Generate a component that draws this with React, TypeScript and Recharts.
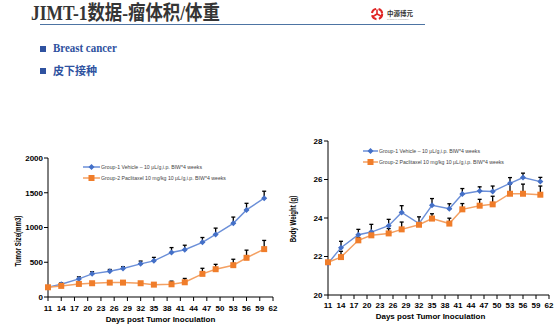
import { LineChart, Line, XAxis, YAxis, ErrorBar, Label } from 'recharts'

const days = [11, 14, 18, 21, 25, 28, 32, 35, 39, 42, 46, 49, 53, 56, 60]
const dayTicks = [11, 14, 17, 20, 23, 26, 29, 32, 35, 38, 41, 44, 47, 50, 53, 56, 59, 62]

const volVehicle = [140, 183, 260, 333, 371, 410, 477, 520, 641, 680, 786, 901, 1060, 1253, 1422]
const volVehicleErr = [10, 20, 30, 30, 25, 25, 40, 50, 70, 65, 70, 90, 90, 95, 100]
const volPaclitaxel = [140, 160, 188, 198, 207, 207, 198, 178, 183, 212, 333, 400, 458, 564, 689]
const volPaclitaxelErr = [10, 10, 12, 12, 12, 12, 12, 12, 45, 55, 80, 70, 85, 110, 125]
const volTicks = [0, 500, 1000, 1500, 2000]

const bwVehicle = [21.64, 22.46, 23.13, 23.27, 23.6, 24.29, 23.71, 24.66, 24.48, 25.25, 25.4, 25.38, 25.8, 26.1, 25.89]
const bwVehicleErr = [0.05, 0.33, 0.28, 0.4, 0.33, 0.35, 0.35, 0.35, 0.26, 0.28, 0.22, 0.28, 0.3, 0.23, 0.22]
const bwPaclitaxel = [21.7, 21.97, 22.84, 23.1, 23.2, 23.41, 23.65, 23.97, 23.71, 24.45, 24.64, 24.71, 25.26, 25.26, 25.21]
const bwPaclitaxelErr = [0.05, 0.3, 0.15, 0.2, 0.25, 0.38, 0.1, 0.25, 0.28, 0.3, 0.33, 0.42, 0.5, 0.5, 0.45]
const bwTicks = [20, 22, 24, 26, 28]

const groupNames = [
  'Group-1 Vehicle – 10 μL/g,i.p. BIW*4 weeks',
  'Group-2 Paclitaxel 10 mg/kg 10 μL/g,i.p. BIW*4 weeks',
]

const BLUE_LINE = '#6b8fd8'
const BLUE_DOT = '#4470c8'
const ORANGE_LINE = '#f4a062'
const ORANGE_DOT = '#f07d2a'
const TEXT_BLUE = '#2f52a0'
const FONT = '"Liberation Sans", Arial, sans-serif'

const volData = days.map((day, i) => ({
  day,
  g1: volVehicle[i],
  g1Err: [0, volVehicleErr[i]],
  g2: volPaclitaxel[i],
  g2Err: [0, volPaclitaxelErr[i]],
}))

const bwData = days.map((day, i) => ({
  day,
  g1: bwVehicle[i],
  g1Err: [0, bwVehicleErr[i]],
  g2: bwPaclitaxel[i],
  g2Err: [0, bwPaclitaxelErr[i]],
}))

function DiamondDot(props: any) {
  const { cx, cy } = props
  if (cx == null || cy == null) return null
  return (
    <path
      d={`M${cx},${cy - 3}L${cx + 3},${cy}L${cx},${cy + 3}L${cx - 3},${cy}Z`}
      fill={BLUE_DOT}
    />
  )
}

function SquareDot(props: any) {
  const { cx, cy } = props
  if (cx == null || cy == null) return null
  return <rect x={cx - 3} y={cy - 3} width={6} height={6} fill={ORANGE_DOT} />
}

const tickStyle = { fontSize: 8, fontWeight: 700, fill: '#000', fontFamily: FONT }

function xTitle(dx: number, dy: number) {
  return (props: any) => {
    const { x, y, width } = props.viewBox
    return (
      <text
        x={x + width / 2 + dx}
        y={y + dy}
        textAnchor='middle'
        dominantBaseline='central'
        fontSize={8}
        fontWeight={700}
        fontFamily={FONT}
        fill='#000'
      >
        Days post Tumor Inoculation
      </text>
    )
  }
}

function yTitle(text: string, dx: number, dy: number) {
  return (props: any) => {
    const { x, y, height } = props.viewBox
    const cx = x + dx
    const cy = y + height / 2 + dy
    return (
      <text
        transform={`translate(${cx},${cy}) rotate(-90) scale(0.72,1)`}
        textAnchor='middle'
        dominantBaseline='central'
        fontSize={8.5}
        fontWeight={700}
        fontFamily={FONT}
        fill='#000'
      >
        {text}
      </text>
    )
  }
}

function ChartLegend({ left, top, lineWidth }: { left: number; top: number; lineWidth: number }) {
  return (
    <div style={{ position: 'absolute', left, top, fontFamily: FONT, fontSize: 5.2, color: '#444' }}>
      {groupNames.map((name, i) => (
        <div key={name} style={{ display: 'flex', alignItems: 'center', height: 11 }}>
          <svg width={lineWidth} height={8} style={{ marginRight: 1 }}>
            <line x1={0} y1={4} x2={lineWidth} y2={4} stroke={i === 0 ? BLUE_LINE : ORANGE_LINE} strokeWidth={1.5} />
            {i === 0 ? (
              <DiamondDot cx={lineWidth / 2} cy={4} />
            ) : (
              <SquareDot cx={lineWidth / 2} cy={4} />
            )}
          </svg>
          <span style={{ whiteSpace: 'nowrap' }}>{name}</span>
        </div>
      ))}
    </div>
  )
}

export default function App() {
  return (
    <div
      style={{
        position: 'relative',
        width: 556,
        height: 327,
        background: '#fff',
        overflow: 'hidden',
      }}
    >
      <style>{'body{margin:0}'}</style>

      {/* header */}
      <div
        style={{
          position: 'absolute',
          left: 31,
          top: 1,
          fontSize: 20,
          lineHeight: '24px',
          fontWeight: 700,
          color: '#353535',
          fontFamily: '"Liberation Serif", "Noto Sans CJK SC", serif',
          transform: 'scaleX(0.87)',
          transformOrigin: 'left top',
          whiteSpace: 'nowrap',
        }}
      >
        JIMT-1数据-瘤体积/体重
      </div>
      <div style={{ position: 'absolute', left: 40, top: 24, width: 385, height: 1, background: '#4d74a3' }} />
      <svg style={{ position: 'absolute', left: 370, top: 7 }} width={50} height={16}>
        <circle cx={7} cy={7} r={5.2} fill='none' stroke='#e02525' strokeWidth={2} strokeDasharray='6 2.5' />
        <path d='M7,7 L7,2.5 M7,7 L11,9 M7,7 L3,9.5' stroke='#e02525' strokeWidth={1.6} />
        <text x={17} y={9} fontSize={6.5} fontWeight={700} fill='#333' fontFamily='"Noto Sans CJK SC", sans-serif'>
          中源博元
        </text>
        <text x={17} y={13} fontSize={2} fill='#888' fontFamily={FONT}>
          ZHONGYUAN BIOTECH
        </text>
      </svg>

      {/* bullets */}
      <div style={{ position: 'absolute', left: 40, top: 46, width: 6, height: 6, background: TEXT_BLUE }} />
      <div
        style={{
          position: 'absolute',
          left: 53,
          top: 41,
          fontSize: 12,
          lineHeight: '14px',
          fontWeight: 700,
          color: TEXT_BLUE,
          fontFamily: '"Liberation Serif", serif',
          transform: 'scaleX(0.91)',
          transformOrigin: 'left top',
          whiteSpace: 'nowrap',
        }}
      >
        Breast cancer
      </div>
      <div style={{ position: 'absolute', left: 40, top: 68, width: 6, height: 6, background: TEXT_BLUE }} />
      <div
        style={{
          position: 'absolute',
          left: 53,
          top: 63,
          fontSize: 11,
          lineHeight: '14px',
          fontWeight: 700,
          color: TEXT_BLUE,
          fontFamily: '"Noto Sans CJK SC", sans-serif',
          whiteSpace: 'nowrap',
        }}
      >
        皮下接种
      </div>

      {/* tumor volume */}
      <div style={{ position: 'absolute', left: 0, top: 150 }}>
        <LineChart width={280} height={177} data={volData} margin={{ top: 8, right: 7, bottom: 0, left: 0 }}>
          <XAxis
            dataKey='day'
            type='number'
            domain={[11, 62]}
            ticks={dayTicks}
            interval={0}
            height={30}
            tickSize={4}
            tickMargin={4.5}
            tick={tickStyle}
            stroke='#000'
            tickLine={{ stroke: '#000' }}
          >
            <Label content={xTitle(0, 22.3)} />
          </XAxis>
          <YAxis
            type='number'
            domain={[0, 2000]}
            ticks={volTicks}
            interval={0}
            width={48}
            tickSize={4}
            tickMargin={1}
            tick={tickStyle}
            stroke='#000'
            tickLine={{ stroke: '#000' }}
          >
            <Label content={yTitle('Tumor Size(mm3)', 18.3, 13.5)} />
          </YAxis>
          <Line
            dataKey='g1'
            stroke={BLUE_LINE}
            strokeWidth={1.4}
            dot={<DiamondDot />}
            activeDot={false}
            isAnimationActive={false}
          >
            <ErrorBar dataKey='g1Err' direction='y' width={2} stroke='#000' strokeWidth={1.3} />
          </Line>
          <Line
            dataKey='g2'
            stroke={ORANGE_LINE}
            strokeWidth={1.5}
            dot={<SquareDot />}
            activeDot={false}
            isAnimationActive={false}
          >
            <ErrorBar dataKey='g2Err' direction='y' width={2} stroke='#000' strokeWidth={1.3} />
          </Line>
        </LineChart>
        <ChartLegend left={83} top={11.5} lineWidth={17} />
      </div>

      {/* body weight */}
      <div style={{ position: 'absolute', left: 280, top: 130 }}>
        <LineChart width={276} height={197} data={bwData} margin={{ top: 11, right: 7, bottom: 0, left: 0 }}>
          <XAxis
            dataKey='day'
            type='number'
            domain={[11, 62]}
            ticks={dayTicks}
            interval={0}
            height={32}
            tickSize={4}
            tickMargin={3.4}
            tick={tickStyle}
            stroke='#000'
            tickLine={{ stroke: '#000' }}
          >
            <Label content={xTitle(-8, 21)} />
          </XAxis>
          <YAxis
            type='number'
            domain={[20, 28]}
            ticks={bwTicks}
            interval={0}
            width={48}
            tickSize={4}
            tickMargin={1.6}
            tick={tickStyle}
            stroke='#000'
            tickLine={{ stroke: '#000' }}
          >
            <Label content={yTitle('Body Weight (g)', 13.3, 1)} />
          </YAxis>
          <Line
            dataKey='g1'
            stroke={BLUE_LINE}
            strokeWidth={1.4}
            dot={<DiamondDot />}
            activeDot={false}
            isAnimationActive={false}
          >
            <ErrorBar dataKey='g1Err' direction='y' width={2} stroke='#000' strokeWidth={1.3} />
          </Line>
          <Line
            dataKey='g2'
            stroke={ORANGE_LINE}
            strokeWidth={1.5}
            dot={<SquareDot />}
            activeDot={false}
            isAnimationActive={false}
          >
            <ErrorBar dataKey='g2Err' direction='y' width={2} stroke='#000' strokeWidth={1.3} />
          </Line>
        </LineChart>
        <ChartLegend left={83} top={15.5} lineWidth={15} />
      </div>
    </div>
  )
}
